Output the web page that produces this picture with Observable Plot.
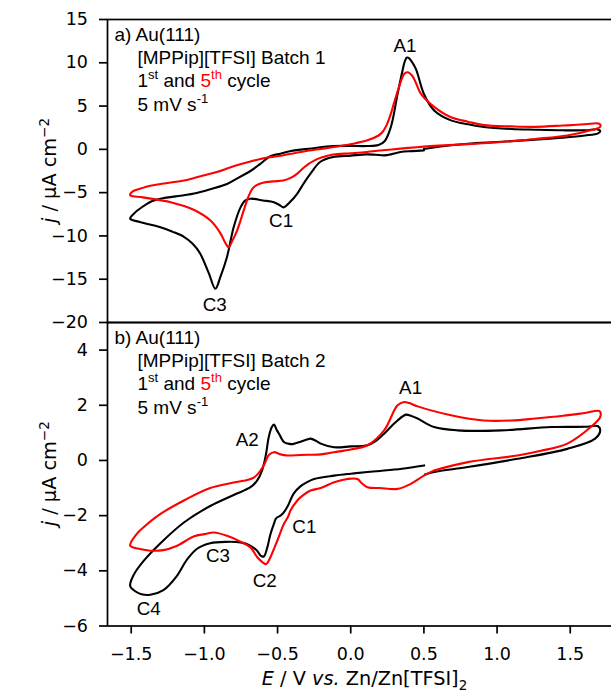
<!DOCTYPE html>
<html><head><meta charset="utf-8">
<script src="https://cdn.jsdelivr.net/npm/d3@7"></script>
<script src="https://cdn.jsdelivr.net/npm/@observablehq/plot@0.6"></script>
<style>
body{margin:0;background:#fff}
#chart{position:relative;width:611px;height:693px;overflow:hidden;background:#fff}
#chart svg{position:absolute;left:0}
</style></head><body><div id="chart"></div>
<script>
// ---------- data (E / V, j / µA cm^-2) ----------
const xTicks = [-1.5, -1, -0.5, 0, 0.5, 1, 1.5];
const yTicksA = [-20, -15, -10, -5, 0, 5, 10, 15];
const yTicksB = [-6, -4, -2, 0, 2, 4];

// Panel a, batch 1, 1st cycle (black)
const aCycle1 = [[0.50,-0.12],[0.42,-0.2],[0.34,-0.31],[0.28,-0.55],[0.23,-0.69],[0.17,-0.62],[0.11,-0.58],[0.0,-0.72],[-0.12,-0.89],[-0.21,-1.46],[-0.27,-2.7],[-0.32,-3.9],[-0.365,-5.1],[-0.41,-6.0],[-0.46,-6.7],[-0.48,-6.5],[-0.525,-6.1],[-0.60,-5.9],[-0.685,-5.7],[-0.72,-5.9],[-0.753,-6.7],[-0.80,-9.0],[-0.845,-12.4],[-0.89,-14.7],[-0.925,-16.1],[-0.97,-14.3],[-1.03,-12.0],[-1.08,-10.9],[-1.14,-10.1],[-1.22,-9.5],[-1.30,-9.0],[-1.44,-8.4],[-1.507,-8.0],
 [-1.48,-7.4],[-1.42,-6.6],[-1.36,-6.0],[-1.30,-5.7],[-1.14,-5.3],[-1.07,-5.1],[-0.96,-4.6],[-0.845,-4.0],[-0.76,-3.2],[-0.685,-2.5],[-0.62,-1.7],[-0.55,-0.8],[-0.48,-0.5],[-0.41,-0.2],[-0.27,0.1],[-0.12,0.38],[0.0,0.4],[0.11,0.38],[0.19,0.5],[0.23,0.9],[0.274,2.57],[0.32,6.4],[0.354,9.1],[0.37,10.2],[0.384,10.6],[0.40,10.5],[0.41,10.3],[0.445,9.3],[0.50,6.4],[0.57,4.5],[0.685,3.35],[0.80,2.9],[0.91,2.58],[1.10,2.35],[1.26,2.27],[1.45,2.2],[1.60,2.2],[1.69,2.3],[1.705,2.1],[1.69,1.85],[1.60,1.6],[1.45,1.35],[1.26,1.12],[1.0,0.85],[0.80,0.65],[0.6,0.3],[0.50,0.05]];

// Panel a, batch 1, 5th cycle (red)
const aCycle5 = [[0.57,0.4],[0.45,0.25],[0.34,0.08],[0.22,-0.1],[0.11,-0.3],[0.0,-0.45],[-0.12,-0.6],[-0.2,-0.95],[-0.25,-1.3],[-0.29,-1.7],[-0.32,-2.1],[-0.365,-2.8],[-0.41,-3.3],[-0.46,-3.6],[-0.53,-3.7],[-0.60,-3.85],[-0.64,-4.1],[-0.67,-4.5],[-0.70,-5.5],[-0.73,-7.0],[-0.776,-9.35],[-0.81,-10.6],[-0.835,-11.3],[-0.86,-10.7],[-0.89,-9.7],[-0.96,-8.2],[-1.07,-7.0],[-1.23,-6.1],[-1.42,-5.55],[-1.507,-5.3],
 [-1.49,-4.85],[-1.44,-4.55],[-1.37,-4.2],[-1.30,-4.0],[-1.14,-3.6],[-1.07,-3.3],[-0.91,-2.6],[-0.845,-2.2],[-0.75,-1.7],[-0.685,-1.4],[-0.57,-0.95],[-0.5,-0.8],[-0.34,-0.3],[-0.205,0.05],[-0.116,0.27],[0.0,0.6],[0.114,1.04],[0.19,1.6],[0.217,2.0],[0.245,2.8],[0.274,4.1],[0.30,5.6],[0.33,7.2],[0.365,8.7],[0.388,8.9],[0.42,8.5],[0.45,7.5],[0.48,6.4],[0.57,4.9],[0.685,3.7],[0.80,3.2],[0.91,2.8],[1.10,2.65],[1.26,2.6],[1.45,2.75],[1.6,2.9],[1.70,2.95],[1.705,2.6],[1.64,2.2],[1.48,1.6],[1.26,1.2],[1.03,0.85],[0.80,0.6],[0.57,0.4]];

// Panel b, batch 2, 1st cycle (black)
const bCycle1 = [[0.502,-0.18],[0.35,-0.3],[0.2,-0.38],[0.114,-0.42],[0.0,-0.48],[-0.114,-0.55],[-0.25,-0.67],[-0.30,-0.79],[-0.342,-0.93],[-0.39,-1.2],[-0.43,-1.65],[-0.46,-1.9],[-0.48,-2.0],[-0.51,-2.1],[-0.525,-2.3],[-0.55,-2.7],[-0.57,-3.15],[-0.594,-3.48],[-0.616,-3.45],[-0.64,-3.27],[-0.70,-3.05],[-0.753,-2.97],[-0.85,-2.95],[-0.96,-3.0],[-1.05,-3.2],[-1.12,-3.6],[-1.19,-4.2],[-1.28,-4.7],[-1.37,-4.87],[-1.43,-4.85],[-1.47,-4.75],[-1.507,-4.55],
 [-1.48,-4.12],[-1.415,-3.64],[-1.30,-3.0],[-1.14,-2.25],[-0.96,-1.65],[-0.80,-1.25],[-0.685,-0.97],[-0.64,-0.73],[-0.605,-0.35],[-0.58,0.2],[-0.56,0.85],[-0.54,1.2],[-0.525,1.3],[-0.505,1.1],[-0.49,0.97],[-0.457,0.67],[-0.42,0.6],[-0.39,0.6],[-0.342,0.68],[-0.30,0.76],[-0.274,0.79],[-0.24,0.72],[-0.205,0.61],[-0.114,0.48],[0.0,0.51],[0.114,0.55],[0.17,0.7],[0.228,0.97],[0.28,1.25],[0.32,1.45],[0.377,1.66],[0.41,1.62],[0.457,1.52],[0.57,1.21],[0.73,1.09],[1.03,1.09],[1.37,1.21],[1.60,1.22],[1.69,1.24],[1.705,1.09],[1.67,0.79],[1.48,0.42],[1.14,0.06],[0.80,-0.24],[0.57,-0.42],[0.507,-0.51]];

// Panel b, batch 2, 5th cycle (red)
const bCycle5 = [[0.57,-0.36],[0.50,-0.55],[0.41,-0.85],[0.32,-1.03],[0.2,-1.0],[0.114,-0.97],[0.07,-0.8],[0.046,-0.67],[-0.023,-0.67],[-0.114,-0.79],[-0.205,-1.0],[-0.274,-1.09],[-0.342,-1.33],[-0.365,-1.45],[-0.41,-1.8],[-0.43,-2.06],[-0.457,-2.3],[-0.502,-2.91],[-0.548,-3.5],[-0.57,-3.72],[-0.58,-3.76],[-0.60,-3.7],[-0.64,-3.5],[-0.685,-3.15],[-0.75,-2.95],[-0.845,-2.73],[-0.936,-2.61],[-1.0,-2.67],[-1.07,-2.75],[-1.19,-3.1],[-1.28,-3.25],[-1.37,-3.27],[-1.44,-3.21],[-1.507,-3.09],
 [-1.46,-2.65],[-1.415,-2.42],[-1.30,-1.94],[-1.14,-1.45],[-0.96,-1.0],[-0.80,-0.8],[-0.66,-0.61],[-0.594,-0.18],[-0.56,0.2],[-0.525,0.3],[-0.48,0.22],[-0.43,0.18],[-0.342,0.2],[-0.205,0.22],[-0.114,0.3],[0.0,0.4],[0.114,0.55],[0.228,1.09],[0.32,2.0],[0.365,2.12],[0.40,2.08],[0.457,1.96],[0.685,1.64],[0.91,1.45],[1.1,1.45],[1.26,1.52],[1.45,1.62],[1.60,1.72],[1.70,1.79],[1.705,1.58],[1.64,1.21],[1.48,0.61],[1.3,0.35],[1.14,0.18],[0.80,-0.06],[0.57,-0.36]];

// Peak labels
const peakNamesA = ["A1", "C1", "C3"];
const peakEA = [0.37, -0.476, -0.929];
const peakJA = [12.0, -8.29, -18.0];
const peakNamesB = ["A1", "A2", "C1", "C2", "C3", "C4"];
const peakEB = [0.409, -0.707, -0.317, -0.588, -0.907, -1.38];
const peakJB = [2.61, 0.76, -2.42, -4.35, -3.47, -5.40];

// ---------- rendering ----------
const FONT_ANN = "'Liberation Sans', Arial, sans-serif";
const FONT_AX = "'DejaVu Sans', sans-serif";
const W = 622;
const xDomain = [-1.662, 1.857];
const fmtInt = d3.format("d");
const fmt1 = d3.format(".1f");
const hasAxisMarks = typeof Plot.axisY === "function";

function infoBlock(letter, batch, frameTop) {
  return () => {
    const g = d3.create("svg:g").attr("font-family", FONT_ANN).attr("font-size", 19)
      .attr("fill", "#000").attr("text-anchor", "start").style("white-space", "pre");
    const add = (dy, x) => g.append("text").attr("x", x).attr("y", frameTop + dy).attr("text-anchor", "start");
    add(21.8, 114.5).text(`${letter}) Au(111)`);
    add(44.8, 137.5).text(`[MPPip][TFSI] Batch ${batch}`);
    const t3 = add(68.3, 137.5);
    t3.append("tspan").text("1");
    t3.append("tspan").attr("font-size", 13).attr("dy", -8).text("st");
    t3.append("tspan").attr("dy", 8).text(" and ");
    t3.append("tspan").attr("fill", "#ff0000").text("5");
    t3.append("tspan").attr("fill", "#ff0000").attr("font-size", 13).attr("dy", -8).text("th");
    t3.append("tspan").attr("dy", 8).text(" cycle");
    const t4 = add(91.8, 137.5);
    t4.append("tspan").text("5 mV s");
    t4.append("tspan").attr("font-size", 13).attr("dy", -8).text("-1");
    return g.node();
  };
}

function yLabel(cy) {
  return () => {
    const t = d3.create("svg:text").attr("transform", `translate(56,${cy}) rotate(-90)`)
      .attr("text-anchor", "middle").attr("font-family", FONT_AX).attr("font-size", 19.3).attr("fill", "#000").style("white-space", "pre");
    t.append("tspan").attr("font-style", "italic").text("j");
    t.append("tspan").text(" / µA cm");
    t.append("tspan").attr("font-size", 13.5).attr("dy", -7.5).text("−2");
    return t.node();
  };
}

function xLabel(cx, y) {
  return () => {
    const t = d3.create("svg:text").attr("x", cx).attr("y", y)
      .attr("text-anchor", "middle").attr("font-family", FONT_AX).attr("font-size", 19.3).attr("fill", "#000").style("white-space", "pre");
    t.append("tspan").attr("font-style", "italic").text("E");
    t.append("tspan").text(" / V ");
    t.append("tspan").attr("font-style", "italic").text("vs.");
    t.append("tspan").text(" Zn/Zn[TFSI]");
    t.append("tspan").attr("font-size", 13.5).attr("dy", 4.5).text("2");
    return t.node();
  };
}

function curveMarks(black, red) {
  return [
    Plot.line(black, {x: d => d[0], y: d => d[1], stroke: "#000", strokeWidth: 2.1, curve: "catmull-rom"}),
    Plot.line(red, {x: d => d[0], y: d => d[1], stroke: "#ff0000", strokeWidth: 2.1, curve: "catmull-rom"})
  ];
}

function peakMarks(names, E, J) {
  return Plot.text(names, {x: E, y: J, text: d => d, fontFamily: FONT_ANN, fontSize: 18.8, fill: "#000", textAnchor: "middle", lineAnchor: "middle"});
}

const baseStyle = {fontFamily: FONT_AX, fontSize: "17.5px", background: "transparent", maxWidth: "none", overflow: "visible", color: "#000"};

// Panel a
const hA = 332, mTopA = 19, mBotA = 10;
const plotA = Plot.plot({
  width: W, height: hA, marginLeft: 107, marginRight: 0, marginTop: mTopA, marginBottom: mBotA,
  style: baseStyle,
  x: {domain: xDomain, axis: null},
  y: {domain: [-20, 15], ticks: yTicksA, tickSize: 8, tickPadding: 11.5, tickFormat: fmtInt, label: null},
  marks: [
    ...(hasAxisMarks ? [Plot.axisY(yTicksA, {tickSize: 8, tickPadding: 11.5, tickFormat: fmtInt, strokeWidth: 1.7, label: null})] : []),
    ...curveMarks(aCycle1, aCycle5),
    peakMarks(peakNamesA, peakEA, peakJA),
    Plot.frame({stroke: "#000", strokeWidth: 1.7}),
    infoBlock("a", 1, mTopA),
    yLabel((mTopA + hA - mBotA) / 2)
  ]
});
plotA.style.top = "0px";

// Panel b
const topB = 312, hB = 381, mTopB = 10, mBotB = 67.5;
const plotB = Plot.plot({
  width: W, height: hB, marginLeft: 107, marginRight: 0, marginTop: mTopB, marginBottom: mBotB,
  style: baseStyle,
  x: {domain: xDomain, ticks: xTicks, tickSize: 8, tickPadding: 14, tickFormat: fmt1, label: null},
  y: {domain: [-6, 5], ticks: yTicksB, tickSize: 8, tickPadding: 11.5, tickFormat: fmtInt, label: null},
  marks: [
    ...(hasAxisMarks ? [
      Plot.axisY(yTicksB, {tickSize: 8, tickPadding: 11.5, tickFormat: fmtInt, strokeWidth: 1.7, label: null}),
      Plot.axisX(xTicks, {tickSize: 8, tickPadding: 14, tickFormat: fmt1, strokeWidth: 1.7, label: null})
    ] : []),
    ...curveMarks(bCycle1, bCycle5),
    peakMarks(peakNamesB, peakEB, peakJB),
    Plot.frame({stroke: "#000", strokeWidth: 1.7}),
    infoBlock("b", 2, mTopB),
    yLabel((mTopB + hB - mBotB) / 2),
    xLabel((107 + W) / 2, 685 - topB)
  ]
});
plotB.style.top = topB + "px";

const chart = document.getElementById("chart");
chart.appendChild(plotA);
chart.appendChild(plotB);
</script>
</body></html>
